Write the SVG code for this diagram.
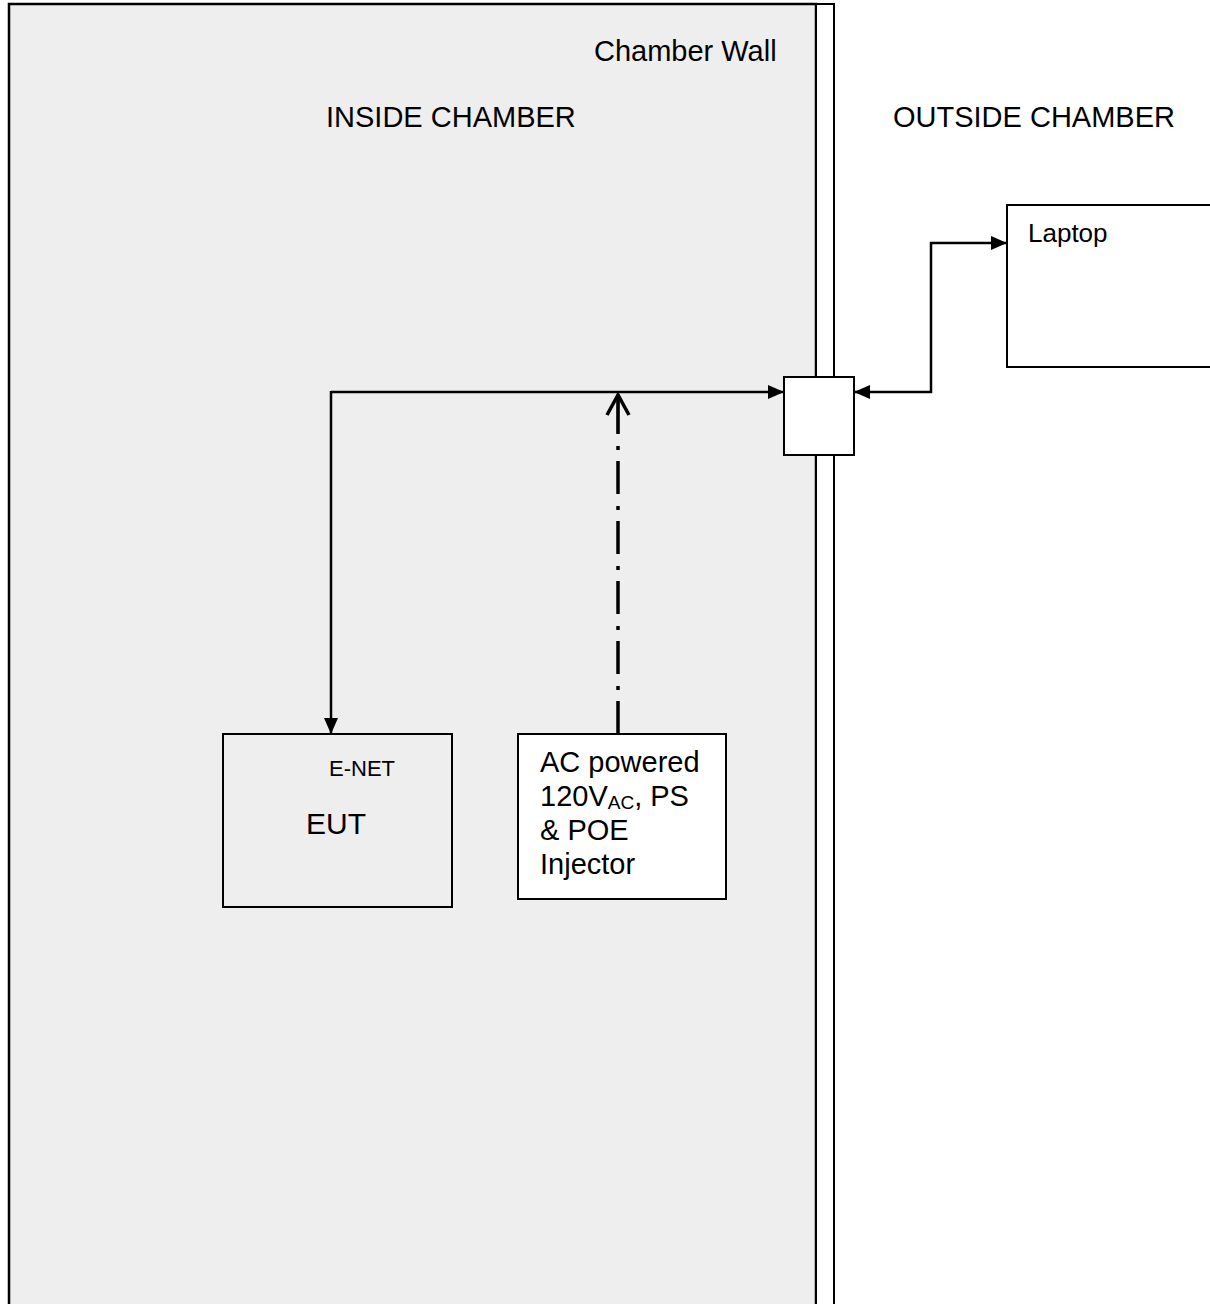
<svg xmlns="http://www.w3.org/2000/svg" width="1210" height="1304" viewBox="0 0 1210 1304">
  <style>
    .t { font-family: "Liberation Sans", Arial, sans-serif; fill: #000; }
    .box { fill: #ffffff; stroke: #000; stroke-width: 2; }
    .boxg { fill: #eeeeee; stroke: #000; stroke-width: 2; }
    .conn { fill: none; stroke: #000; stroke-width: 2.5; }
    .dd { fill: none; stroke: #000; stroke-width: 3.5; stroke-dasharray: 33 11 4 12; }
  </style>
  <defs>
    <marker id="ah" markerUnits="userSpaceOnUse" markerWidth="16" markerHeight="14" refX="16" refY="7" orient="auto-start-reverse" viewBox="0 0 16 14">
      <path d="M0,0 L16,7 L0,14 z" fill="#000"/>
    </marker>
  </defs>
  <rect width="1210" height="1304" fill="#ffffff"/>

  <g id="inside-chamber">
    <rect x="9" y="4" width="807" height="1320" fill="#eeeeee" stroke="#000" stroke-width="2.5"/>
    <text class="t" x="326" y="127" font-size="29">INSIDE CHAMBER</text>
    <text class="t" x="594" y="61" font-size="29">Chamber Wall</text>
  </g>

  <g id="chamber-wall">
    <rect x="816" y="4" width="18" height="1320" fill="#ffffff" stroke="#000" stroke-width="2"/>
  </g>

  <g id="outside-label">
    <text class="t" x="893" y="127" font-size="29">OUTSIDE CHAMBER</text>
  </g>

  <g id="laptop">
    <rect class="box" x="1007" y="205" width="220" height="162"/>
    <text class="t" x="1028" y="242" font-size="26">Laptop</text>
  </g>

  <g id="feedthrough">
    <rect class="box" x="784" y="377" width="70" height="78"/>
  </g>

  <g id="eut">
    <rect class="boxg" x="223" y="734" width="229" height="173"/>
    <text class="t" x="329" y="776" font-size="22">E-NET</text>
    <text class="t" x="306" y="834" font-size="30">EUT</text>
  </g>

  <g id="ac-supply">
    <rect class="box" x="518" y="734" width="208" height="165"/>
    <text class="t" x="540" y="772" font-size="29">AC powered</text>
    <text class="t" x="540" y="806" font-size="29">120V<tspan font-size="19" dy="3">AC</tspan><tspan dy="-3">, PS</tspan></text>
    <text class="t" x="540" y="840" font-size="29">&amp; POE</text>
    <text class="t" x="540" y="874" font-size="29">Injector</text>
  </g>

  <g id="connectors">
    <path class="conn" d="M331,392 H784" marker-end="url(#ah)"/>
    <path class="conn" d="M331,391 V734" marker-end="url(#ah)"/>
    <path class="conn" d="M854,392 H931 V243 H1007" marker-start="url(#ah)" marker-end="url(#ah)"/>
    <path class="dd" d="M618,734 V396"/>
    <path class="conn" d="M618,396 V433" stroke-width="3.5"/>
    <path d="M607,415 L618,395 L629,415" fill="none" stroke="#000" stroke-width="3.5"/>
  </g>
</svg>
